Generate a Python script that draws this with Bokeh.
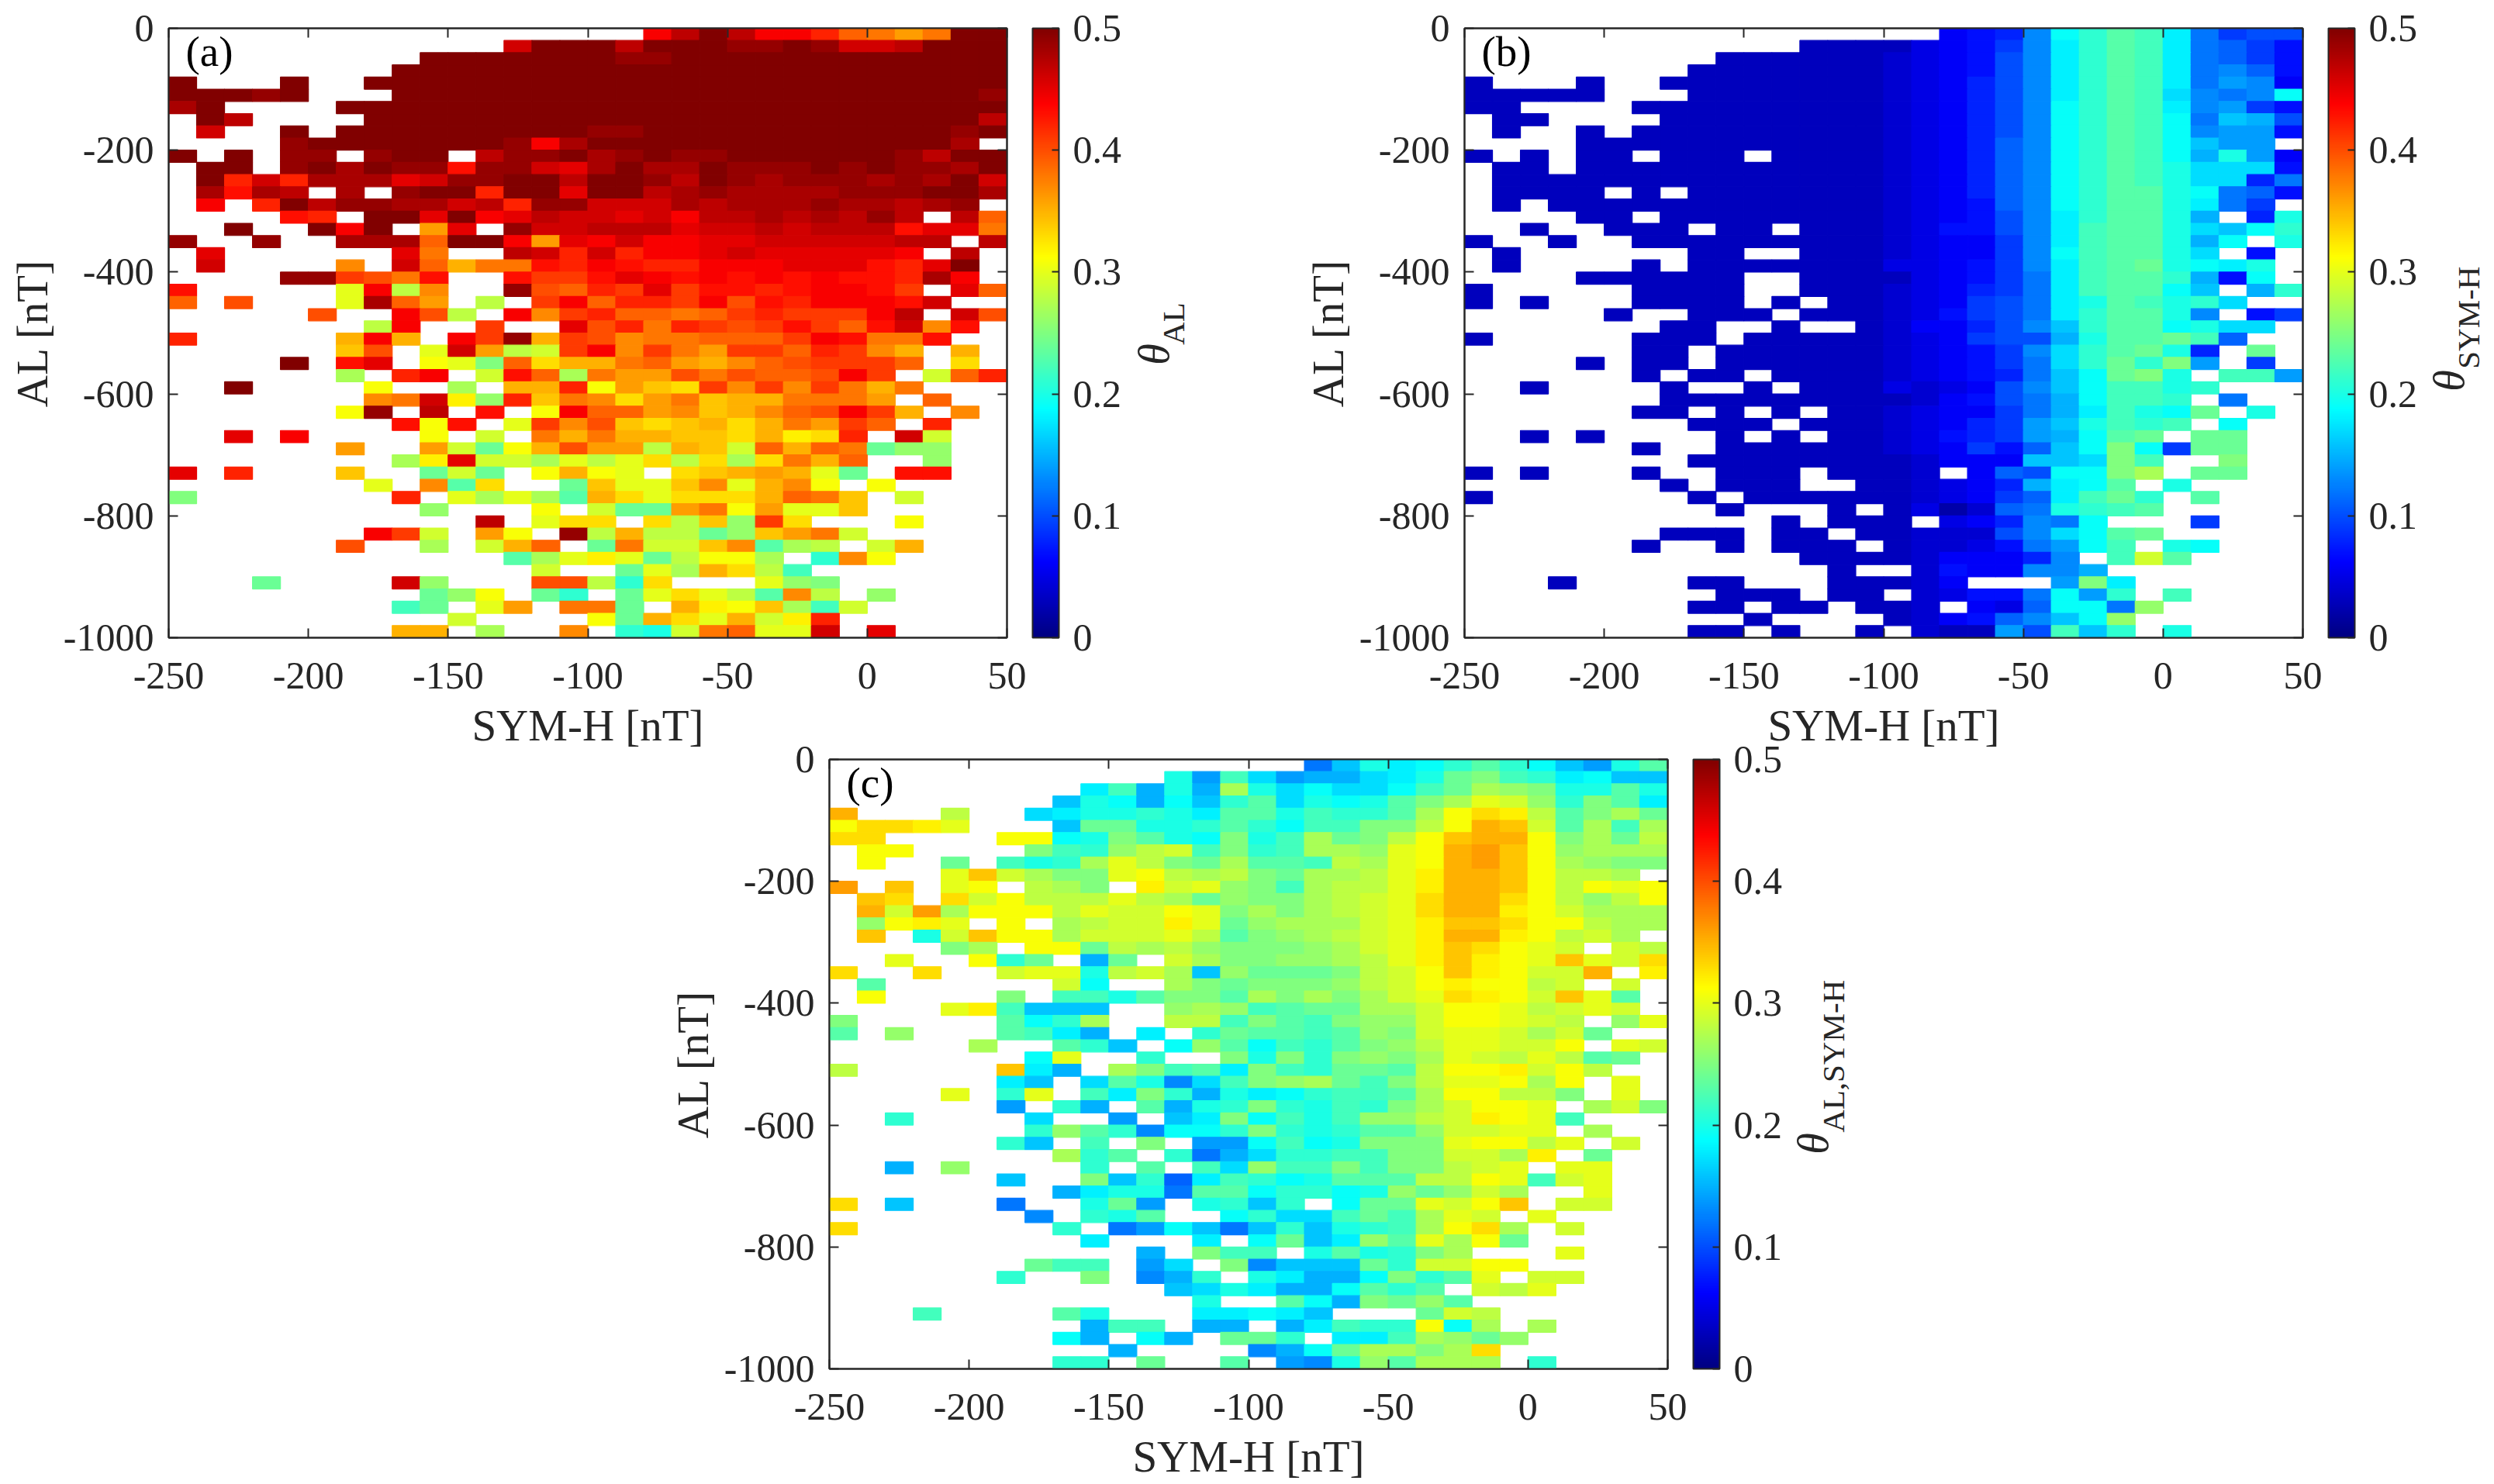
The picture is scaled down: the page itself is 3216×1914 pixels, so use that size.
import math
from bokeh.core.properties import value
from bokeh.embed import file_html
from bokeh.resources import INLINE
from bokeh.plotting import figure
from bokeh.layouts import column, row
from bokeh.models import (ColumnDataSource, LinearColorMapper, ColorBar, FixedTicker, LinearAxis, Label, Spacer, Range1d)
from bokeh.transform import linear_cmap

n = None
E = [None] * 5
SYM_H_EDGES = list(range(-250, 60, 10))
AL_EDGES = list(range(0, -1020, -20))
X_TICKS = [-250, -200, -150, -100, -50, 0, 50]
Y_TICKS = [-1000, -800, -600, -400, -200, 0]
CB_TICKS = [0, 0.1, 0.2, 0.3, 0.4, 0.5]

# values in hundredths of theta, rows from AL = 0 downward, columns from SYM-H = -250
THETA_AL = [
[n]*17+[44,47,50,47,44,44,42,39,38,36,38,50,50],
[n]*12+[46,50,50,50,47,50,50,50,49,49,50,49,46,46,47,50,50,50],
[n]*9+[50]*7+[49,49]+[50]*12,
[n]*8+[50]*22,
[50,n,n,n,50,n,n]+[50]*23,
[50,50,50,49,50,n,n,n]+[50]*21+[49],
[48,50,n,n,n,n]+[50]*24,
[n,50,47,n,n,n,n]+[50]*22+[47],
[n,46,n,n,50,n]+[50]*9+[49,49]+[50]*11+[49,50],
[n,n,n,n,49]+[50]*7+[49,44,48]+[50]*13+[48,n],
[50,n,50,n,49,49,n,49,50,50,n,47,49,49,50,48,49,50,49,49,50,50,50,50,50,50,49,47,50,50],
[n,50,50,n,49,50,48,50,49,49,43,49,49,46,45,48,50,48,48,50,49,49,49,50,49,50,49,49,48,50],
[n,50,42,46,42,48,48,48,45,46,49,49,50,50,47,50,50,49,47,50,49,48,49,49,49,48,49,48,50,46],
[n,48,43,48,47,n,48,n,49,50,50,42,50,50,45,50,50,47,48,49,48,48,48,48,49,49,49,50,50,48],
[n,44,n,42,50,47,49,49,48,48,46,47,42,49,49,46,46,46,48,47,48,48,48,49,48,48,47,48,49,n],
[n,n,n,n,43,42,n,50,50,45,50,44,45,47,46,46,45,46,44,47,47,48,47,48,47,49,47,n,47,39],
[n,n,50,n,n,50,44,50,n,36,45,n,49,46,46,47,47,47,45,46,46,47,46,47,47,47,43,45,45,38],
[49,n,n,49,n,n,48,48,48,39,50,50,44,36,45,44,46,44,44,45,45,46,46,46,46,46,47,47,n,47],
[n,45,n,n,n,n,n,n,45,38,n,n,47,46,42,46,42,44,44,45,46,45,45,45,45,45,44,n,47,n],
[n,46,n,n,n,n,37,n,46,39,35,38,38,43,42,44,43,42,42,44,44,44,45,45,45,43,42,45,50,n],
[n,n,n,n,49,49,41,40,38,43,n,n,43,41,41,43,45,44,43,44,43,44,43,44,43,43,42,48,44,n],
[43,n,n,n,n,n,30,44,28,37,n,n,49,40,39,42,41,45,41,43,43,42,43,44,44,43,41,n,45,39],
[39,n,40,n,n,n,30,48,39,36,n,28,n,41,44,39,42,42,41,44,40,43,42,44,44,44,43,46,n,n],
[*E,40,n,n,44,40,28,n,44,37,41,42,39,39,38,39,41,42,41,41,41,44,47,n,46,40],
[*E,n,n,28,44,n,n,41,n,n,45,40,42,38,42,41,40,41,43,41,39,43,46,37,43,n],
[42,n,n,n,n,n,35,44,35,n,44,41,49,35,41,40,37,38,38,39,39,39,41,44,43,38,38,43,n,n],
[*E,n,34,40,n,30,46,36,28,29,41,44,37,41,38,36,41,41,39,42,41,37,35,n,35,n],
[n,n,n,n,50,n,43,45,n,31,30,25,39,33,35,35,38,39,36,35,37,39,40,41,41,41,39,n,33,n],
[*E,n,27,n,42,44,n,29,43,39,27,38,36,36,40,38,40,39,39,40,44,41,n,29,39,42],
[n,n,50,n,n,n,n,31,n,n,27,n,35,35,42,31,36,34,33,41,37,41,37,41,38,35,38,n,n,n],
[*E,n,n,37,38,46,32,26,42,34,38,37,33,36,38,34,35,35,38,38,38,36,n,39,n,n],
[*E,n,31,49,n,47,n,43,n,31,44,39,39,36,37,34,35,37,39,40,44,41,35,n,37,n],
[*E,n,n,n,43,31,43,n,30,41,37,40,34,33,34,35,33,35,38,36,41,39,n,42,n,n],
[n,n,45,n,44,n,n,n,n,31,n,29,n,38,35,38,35,35,34,34,33,35,32,33,42,n,46,29,n,n],
[*E,n,36,n,n,36,29,24,31,35,40,36,36,28,35,34,29,39,35,39,38,24,26,26,n,n],
[*E,n,n,n,27,32,45,29,29,27,30,28,30,33,28,33,27,33,38,35,39,n,n,26,n,n],
[45,n,42,n,n,n,34,n,n,24,29,24,n,31,35,31,30,n,33,34,35,36,35,30,24,n,43,43,n,n],
[*E,n,n,30,n,37,23,33,n,n,24,34,30,30,34,37,30,35,37,31,n,31,n,n,n,n],
[25,n,n,n,n,n,n,n,42,n,30,27,30,27,23,35,33,30,33,33,33,35,39,38,34,n,29,n,n,n],
[*E,n,n,n,n,26,n,n,n,31,n,29,24,24,36,38,31,36,30,30,34,*E],
[*E,*E,n,47,n,30,33,33,n,33,28,34,26,41,33,n,n,n,31,n,n,n],
[*E,n,n,44,41,29,n,36,31,n,49,28,35,28,28,24,26,34,36,38,29,*E],
[*E,n,40,n,n,27,n,29,35,39,n,24,38,29,29,34,37,23,27,28,n,29,35,n,n,n],
[*E,*E,n,n,23,27,30,32,30,24,28,31,31,27,n,21,37,31,n,n,n,n],
[*E,*E,n,n,n,29,n,n,24,30,27,35,33,28,22,n,n,*E],
[n,n,n,24,n,n,n,n,46,26,n,n,n,40,40,28,21,33,n,n,n,30,26,25,n,*E],
[*E,n,n,n,n,24,26,31,n,24,21,n,24,30,33,30,28,23,37,28,n,26,n,n,n,n],
[*E,n,n,n,22,24,n,30,36,n,38,38,24,n,35,32,31,34,27,22,29,*E],
[*E,*E,29,n,n,n,n,31,24,35,33,30,35,29,32,42,n,*E],
[*E,n,n,n,35,35,n,27,n,n,37,n,21,20,29,38,39,30,30,46,n,45,n,n,n,n],
]

THETA_SYM_H = [
[n]*17+[6,7,8,13,19,21,23,22,18,12,9,10,10],
[n]*12+[3,3,3,3,5,6,7,9,13,18,21,23,22,18,12,11,9,7],
[n]*9+[3]*6+[4,5]+[6,7,10,13,18,21,23,22,18,12,11,9,7],
[n]*8+[3]*7+[4,5]+[6,7,10,13,18,21,23,22,18,12,13,11,7],
[3,n,n,n,3,n,n]+[3]*8+[4,5]+[6,8,10,13,18,21,23,22,18,12,14,13,6],
[3,3,3,3,3,n,n,n]+[3]*7+[4,5]+[6,8,10,13,18,21,23,22,17,13,12,13,19],
[3,3,n,n,n,n]+[3]*9+[4,5]+[6,8,10,13,19,21,23,22,18,13,14,9,7],
[n,3,3,n,n,n,n]+[3]*8+[4,5]+[6,8,10,13,19,21,23,22,19,12,16,15,10],
[n,3,n,n,3,n]+[3]*9+[4,5]+[6,8,10,13,19,21,23,22,19,13,14,14,7],
[n,n,n,n]+[3]*11+[4,5]+[6,8,11,13,19,21,23,22,19,16,14,14,n],
[3,n,3,n,3,3,n,3,3,3,n,3,3,3,3,4,5]+[6,8,11,13,19,21,23,22,19,15,20,14,6],
[n,3,3,n]+[3]*11+[4,5]+[6,8,11,13,19,21,23,22,20,17,17,17,7],
[n]+[3]*14+[4,5]+[6,8,11,13,19,21,23,22,20,17,17,8,12],
[n,3,3,3,3,n,3,n]+[3]*7+[4,5]+[6,8,11,13,19,21,23,23,20,19,12,11,7],
[n,3,n]+[3]*12+[4,5]+[6,7,11,13,19,21,23,23,20,18,12,9,n],
[n,n,n,n,3,3,n]+[3]*8+[4,5]+[6,7,10,13,18,21,23,23,20,15,n,8,20],
[n,n,3,n,n,3,3,3,n,3,3,n,3,3,3,4,5]+[7,7,10,13,18,22,23,23,20,17,16,19,21],
[3,n,n,3,n,n,3,3,3,3,3,3,3,3,3,4,5]+[6,6,9,13,18,22,23,23,20,15,19,n,20],
[n,3,n,n,n,n,n,n,3,3,n,n,3,3,3,4,5]+[6,6,9,13,19,22,23,23,20,17,n,7,n],
[n,3,n,n,n,n,3,n,3,3,3,3,3,3,3,5,5]+[6,7,9,13,18,22,23,24,20,19,18,20,n],
[n,n,n,n,3,3,3,3,3,3,n,n,3,3,3,3,5]+[6,7,9,12,18,22,23,23,21,15,7,19,n],
[3,n,n,n,n,n,3,3,3,3,n,n,3,3,3,4,5]+[6,8,9,12,18,22,23,23,19,16,n,15,21],
[3,n,3,n,n,n,3,3,3,3,n,3,n,3,3,4,5]+[6,9,10,12,18,20,23,22,20,21,17,n,n],
[n,n,n,n,n,3,n,n,3,3,3,n,3,3,3,4,5]+[7,9,10,12,18,21,23,23,20,13,n,7,9],
[n,n,n,n,n,n,n,3,3,n,n,3,n,n,3,4,6]+[6,8,10,13,16,21,23,23,19,20,17,17,n],
[3,n,n,n,n,n,3,3,3,n,3,3,3,3,3,4,5]+[6,9,10,10,15,20,23,23,24,22,11,n,n],
[n,n,n,n,n,n,3,3,n,3,3,3,3,3,3,4,5]+[6,7,9,13,17,21,23,24,20,8,n,24,n],
[n,n,n,n,3,n,3,3,n,3,3,3,3,3,3,4,5]+[6,7,9,12,17,21,24,21,25,14,n,9,n],
[n,n,n,n,n,n,3,n,3,3,n,3,3,3,3,4,5]+[6,7,8,12,16,19,24,25,20,n,22,22,14],
[n,n,3,n,n,n,n,3,n,n,3,n,3,3,3,5,4]+[5,6,10,13,16,19,22,22,20,21,n,n,n],
[n,n,n,n,n,n,n,3,3,3,3,3,3,3,3,3,4]+[6,7,10,12,15,19,22,22,21,n,12,n,n],
[n,n,n,n,n,n,3,3,n,3,n,3,n,3,3,4,5]+[6,6,9,12,15,18,22,20,19,24,n,20,n],
[n,n,n,n,n,n,n,n,3,3,3,n,3,3,3,4,5]+[6,8,9,14,16,20,22,21,22,n,19,n,n],
[n,n,3,n,3,n,n,n,n,3,n,3,n,3,3,4,5]+[7,8,9,14,15,19,23,24,n,24,24,n,n],
[n,n,n,n,n,n,3,n,n,3,3,3,3,3,3,4,5]+[6,9,7,11,16,19,25,19,9,24,24,n,n],
[n,n,n,n,n,n,n,n,3,3,3,3,3,3,3,3,4]+[6,6,6,16,16,17,25,22,n,n,25,n,n],
[3,n,3,n,n,n,3,n,n,3,3,3,n,3,3,3,4]+[n,6,11,10,19,19,25,27,n,24,24,n,n],
[n,n,n,n,n,n,n,3,n,3,3,3,n,n,3,3,4]+[5,6,8,15,18,19,23,n,20,n,n,n,n],
[3,n,n,n,n,n,n,n,3,n,3,3,3,3,3,3,4]+[5,6,9,11,18,22,24,21,n,23,n,n,n],
[n,n,n,n,n,n,n,n,n,3,n,n,n,3,n,3,5]+[2,4,11,12,20,21,22,23,n,n,n,n,n],
[n,n,n,n,n,n,n,n,n,n,n,3,n,3,3,3,n]+[5,6,8,13,12,19,n,n,n,9,n,n,n],
[n,n,n,n,n,n,n,3,3,3,n,3,3,n,3,3,4]+[4,4,10,13,17,19,23,24,n,n,n,n,n],
[n,n,n,n,n,n,3,n,n,3,n,3,3,3,n,3,4]+[4,5,7,12,14,19,22,n,20,19,n,n,n],
[n]*12+[3,3,3,3,4]+[6,6,6,8,13,n,22,29,23,n,n,n,n],
[n]*13+[3,n,n,4]+[7,6,6,13,13,15,n,n,n,n,n,n,n],
[n,n,n,3,n,n,n,n,3,3,n,n,n,3,3,3,4]+[6,n,n,n,14,25,18,n,n,n,n,n,n],
[n,n,n,n,n,n,n,n,n,3,3,3,n,3,3,n,4]+[5,7,7,12,19,14,21,n,22,n,n,n,n],
[n,n,n,n,n,n,n,n,3,3,n,3,3,n,3,3,4]+[n,6,5,11,19,19,12,26,n,n,n,n,n],
[n]*10+[3,n,n,n,n,3,4]+[6,7,11,13,16,19,26,n,n,n,n,n,n],
[n,n,n,n,n,n,n,n,3,3,n,3,n,n,3,n,4]+[3,3,14,10,22,16,21,n,20,n,n,n,n],
]

THETA_AL_SYM_H = [
[n]*17+[12,16,20,18,19,21,23,21,19,16,14,20,23],
[n]*12+[20,14,22,17,14,15,15,17,18,20,24,25,22,21,18,19,16,16],
[n]*9+[18,22,15,20,15,27,20,17,19,17,17,19,22,24,27,26,25,20,20,23,20],
[n]*8+[16,20,19,15,19,16,21,23,17,20,19,20,23,25,27,30,29,26,21,25,23,18],
[35,n,n,n,28,n,n,17,18,20,20,21,20,18,23,23,20,22,21,21,23,27,31,33,32,28,23,25,27,24],
[31,33,33,32,30,n,n,n,16,24,24,20,20,21,23,21,19,22,22,25,25,28,31,35,34,29,23,27,22,27],
[33,33,n,n,n,n,31,31,19,20,25,23,20,19,25,20,22,27,24,25,28,31,34,35,35,31,25,27,24,28],
[n,31,31,n,n,n,n,25,22,21,26,28,29,22,25,21,22,27,27,26,30,31,35,36,34,31,26,27,27,27],
[n,31,n,n,24,n,22,20,21,27,30,28,25,24,27,23,23,22,28,27,30,31,35,36,34,31,27,26,25,25],
[n,n,n,n,30,34,29,27,25,25,30,31,28,27,28,25,24,27,27,28,30,32,35,35,34,31,28,28,27,n],
[36,n,34,n,30,31,n,28,27,25,n,32,29,30,26,25,22,27,28,28,30,32,35,35,34,31,28,31,30,31],
[n,34,33,n,33,29,31,28,28,28,30,28,27,24,26,25,25,27,28,29,30,33,35,35,33,31,28,26,28,31],
[n,35,29,36,27,31,31,31,28,30,29,29,31,30,25,27,25,27,28,29,30,33,35,35,32,31,29,27,27,27],
[n,26,31,32,30,n,31,n,27,28,29,29,32,30,24,26,27,27,27,29,30,32,34,34,33,31,31,28,27,27],
[n,34,n,20,29,34,31,31,27,29,29,29,30,28,23,25,26,27,28,29,30,32,35,35,32,31,28,29,27,n],
[n,n,n,n,25,27,n,31,31,24,28,27,28,26,25,25,25,26,27,29,30,32,34,33,31,30,29,n,29,28],
[n,n,30,n,n,31,21,24,n,15,24,n,29,27,25,25,26,26,27,28,30,32,34,32,31,30,34,30,29,33],
[33,n,n,33,n,n,29,30,30,20,28,29,27,16,26,24,24,24,25,28,29,31,34,32,31,29,29,35,n,32],
[n,23,n,n,n,n,n,n,29,19,n,n,27,25,24,25,25,25,26,28,29,31,32,31,31,28,29,n,29,n],
[n,31,n,n,n,n,25,n,22,22,20,23,25,25,23,27,25,27,25,27,29,30,33,32,31,29,34,30,23,n],
[n,n,n,n,30,32,22,16,16,16,n,n,26,27,26,22,23,24,24,27,27,29,31,31,30,28,29,30,29,n],
[25,n,n,n,n,n,23,19,21,27,n,n,28,28,22,25,23,22,25,26,26,29,31,31,30,29,28,n,26,30],
[23,n,26,n,n,n,23,22,18,15,n,18,n,21,24,23,23,22,23,26,25,29,30,30,29,27,29,24,n,n],
[*E,27,n,n,23,21,16,n,19,26,23,19,22,21,23,25,26,28,30,30,29,29,31,n,30,29],
[*E,n,n,19,30,n,n,21,n,n,25,20,25,21,25,26,25,27,30,29,28,30,28,23,24,n],
[28,n,n,n,n,n,34,18,15,n,27,25,22,23,18,25,22,21,24,24,23,28,31,31,32,29,31,28,n,n],
[*E,n,18,16,n,17,23,20,13,17,22,25,26,27,24,22,25,28,30,30,31,27,31,n,30,n],
[n,n,n,n,30,n,21,30,n,22,18,25,21,15,20,18,19,21,22,22,23,27,31,31,28,28,25,n,30,n],
[*E,n,14,n,21,15,n,23,15,20,21,25,21,20,22,21,25,27,29,31,31,30,n,27,29,25],
[n,n,21,n,n,n,n,17,n,n,14,n,16,18,25,19,22,20,22,26,26,28,29,32,31,30,22,n,n,n],
[*E,n,n,21,26,23,21,13,19,19,21,25,21,20,21,23,23,26,29,29,30,30,n,27,n,n],
[*E,n,21,16,n,22,n,25,n,14,14,19,22,19,20,25,25,25,30,31,31,28,30,n,29,n],
[*E,n,n,n,27,21,23,n,21,12,15,17,21,21,22,22,25,25,29,29,27,32,n,24,n,n],
[n,n,15,n,26,n,n,n,n,21,n,23,n,22,17,26,22,22,25,22,25,25,28,29,30,n,30,30,n,n],
[*E,n,16,n,n,25,16,21,11,18,22,21,19,20,23,23,23,28,28,31,30,22,29,30,n,n],
[*E,n,n,n,15,18,20,20,12,23,23,19,21,21,19,20,26,24,26,29,27,n,n,30,n,n],
[33,n,16,n,n,n,12,n,n,20,24,14,n,20,21,16,21,n,19,24,24,30,29,31,34,n,29,29,n,n],
[*E,n,n,13,n,21,20,23,n,n,19,21,17,17,22,24,22,27,30,29,n,30,n,n,n,n],
[33,n,n,n,n,n,n,n,21,n,12,14,19,16,12,16,21,16,20,21,22,27,31,33,27,n,29,n,n,n],
[*E,n,n,n,n,18,n,n,n,18,n,19,24,16,18,26,23,30,27,31,24,*E],
[*E,*E,n,15,n,25,22,22,n,20,23,20,21,25,27,n,n,n,30,n,n,n],
[*E,n,n,24,22,22,n,14,17,n,25,13,16,16,16,24,21,29,29,31,31,*E],
[*E,n,21,n,n,25,n,13,15,21,n,20,18,15,15,19,25,21,23,30,n,29,29,n,n,n],
[*E,*E,n,n,16,17,20,18,15,15,19,23,21,23,n,29,28,30,n,n,n,n],
[*E,*E,n,n,n,20,n,n,23,19,15,25,24,26,23,n,n,*E],
[n,n,n,22,n,n,n,n,23,20,n,n,n,18,18,19,18,16,n,n,n,24,29,28,n,*E],
[*E,n,n,n,n,15,22,22,n,15,15,n,15,18,22,21,21,31,19,27,n,27,n,n,n,n],
[*E,n,n,n,19,15,n,19,15,n,24,24,21,n,18,18,22,27,26,24,26,*E],
[*E,*E,15,n,n,n,n,13,15,19,24,27,27,25,27,33,n,*E],
[*E,n,n,n,21,21,n,24,n,n,23,n,14,13,20,26,23,27,27,27,n,21,n,n,n,n],
]

for name, tab in (("AL", THETA_AL), ("SYM", THETA_SYM_H), ("BOTH", THETA_AL_SYM_H)):
    bad = [i for i, r in enumerate(tab) if len(r) != 30]
    assert len(tab) == 50 and not bad, (name, len(tab), bad)

def jet(k, m=256):
    t = (k + 0.5) / m
    def f(a):
        return max(0.0, min(1.0, 1.5 - abs(4 * t - a)))
    return "#%02x%02x%02x" % (round(255 * f(3)), round(255 * f(2)), round(255 * f(1)))

JET = [jet(k) for k in range(256)]
INK = "#262626"
SERIF = "Liberation Serif"
BOTTOM = 148
RIGHT = 162
OVERLAP = 40

def panel(tab, tag, b_top, border):
    p = figure(frame_width=1081, frame_height=786, x_range=Range1d(-250, 50), y_range=Range1d(-1000, 0),
               output_backend="svg", toolbar_location=None, tools="",
               min_border_left=217, min_border_right=RIGHT, min_border_top=b_top, min_border_bottom=BOTTOM,
               background_fill_color="white", border_fill_color=border, outline_line_color=INK, outline_line_width=2)
    p.grid.visible = False
    cells = dict(left=[], right=[], top=[], bottom=[], value=[])
    for i, r in enumerate(tab):
        for j, v in enumerate(r):
            if v is None:
                continue
            cells["left"].append(SYM_H_EDGES[j]); cells["right"].append(SYM_H_EDGES[j + 1])
            cells["top"].append(AL_EDGES[i]); cells["bottom"].append(AL_EDGES[i + 1])
            cells["value"].append(v / 100)
    cmap = linear_cmap("value", JET, 0, 0.5)
    p.quad(left="left", right="right", top="top", bottom="bottom", source=ColumnDataSource(cells),
           fill_color=cmap, line_color=cmap, line_width=1.2)
    for ax, t, lab in ((p.xaxis[0], X_TICKS, "SYM-H [nT]"), (p.yaxis[0], Y_TICKS, "AL [nT]")):
        ax.ticker = FixedTicker(ticks=t)
        ax.major_label_overrides = {v: str(v) for v in t}
        ax.axis_label = lab
        ax.axis_label_text_font = SERIF
        ax.axis_label_text_font_size = "57px"
        ax.axis_label_text_font_style = "normal"
        ax.axis_label_text_color = INK
        ax.major_label_text_font = SERIF
        ax.major_label_text_font_size = "50px"
        ax.major_label_text_color = INK
        ax.major_tick_in = 12
        ax.major_tick_out = 0
        ax.minor_tick_in = 0
        ax.minor_tick_out = 0
        ax.major_tick_line_color = INK
        ax.major_tick_line_width = 2
        ax.axis_line_color = INK
        ax.axis_line_width = 2
    p.xaxis[0].major_label_standoff = 32
    p.xaxis[0].axis_label_standoff = 13
    p.yaxis[0].major_label_standoff = 19
    p.yaxis[0].axis_label_standoff = 6
    p.yaxis[0].major_label_orientation = "horizontal"
    for side, t in (("above", X_TICKS), ("right", Y_TICKS)):
        a = LinearAxis(ticker=FixedTicker(ticks=t), major_label_overrides={v: "" for v in t},
                       major_label_text_font_size="1px", major_label_standoff=0,
                       major_tick_in=12, major_tick_out=0, minor_tick_in=0, minor_tick_out=0,
                       major_tick_line_color=INK, major_tick_line_width=2, axis_line_color=INK, axis_line_width=2)
        p.add_layout(a, side)
    bar = ColorBar(color_mapper=LinearColorMapper(palette=JET, low=0, high=0.5), ticker=FixedTicker(ticks=CB_TICKS),
                   width=34, height=786, padding=0, margin=0, location=(33, 0),
                   major_label_text_font=SERIF, major_label_text_font_size="50px", major_label_text_color=INK,
                   background_fill_color=None, border_line_color=None,
                   label_standoff=18, major_tick_in=9, major_tick_out=0, major_tick_line_color=INK, major_tick_line_width=2,
                   minor_tick_line_color=None, bar_line_color=INK, bar_line_width=2)
    p.add_layout(bar, "right")
    p.add_layout(Label(x=-250, y=0, x_offset=22, y_offset=-30, text=tag, text_font=SERIF, text_font_size="55px",
                       text_color="black", text_baseline="alphabetic"))
    return p

def side_label(width, height, sub, theta_x, sub_x, theta_y, sub_y):
    q = figure(width=width, height=height, x_range=Range1d(0, width), y_range=Range1d(0, height),
               output_backend="svg", toolbar_location=None, tools="", x_axis_type=None, y_axis_type=None,
               min_border=0, outline_line_color=None, background_fill_color=None, border_fill_color=None)
    q.grid.visible = False
    q.text(x=[theta_x], y=[height - theta_y], text=["θ"], angle=math.pi / 2, text_font=value(SERIF),
           text_font_size=value("56px"), text_font_style="italic", text_color=INK,
           text_baseline="alphabetic", text_align="left")
    q.text(x=[sub_x], y=[height - sub_y], text=[sub], angle=math.pi / 2, text_font=value(SERIF),
           text_font_size=value("41px"), text_color=INK, text_baseline="alphabetic", text_align="left")
    return q

TOP_H = 36 + 786 + BOTTOM
C_Y0 = TOP_H - OVERLAP
C_TOP = 979 - C_Y0
C_H = C_TOP + 786 + BOTTOM
pa = panel(THETA_AL, "(a)", 36, "white")
pb = panel(THETA_SYM_H, "(b)", 36, "white")
pc = panel(THETA_AL_SYM_H, "(c)", C_TOP, None)
la = side_label(211, TOP_H, "AL", 27, 52, 536, 504)
lb = side_label(80, TOP_H, "SYM-H", 26, 51, 578, 542)
lc = side_label(90, C_H, "AL,SYM-H", 25, 51, 1567 - C_Y0, 1532 - C_Y0)
top = row(pa, la, pb, lb)
bottom = row(Spacer(width=852, height=10), pc, lc, margin=(-OVERLAP, 0, 0, 0))
page = column(top, bottom)
open("out.html", "w").write(file_html(page, INLINE))
